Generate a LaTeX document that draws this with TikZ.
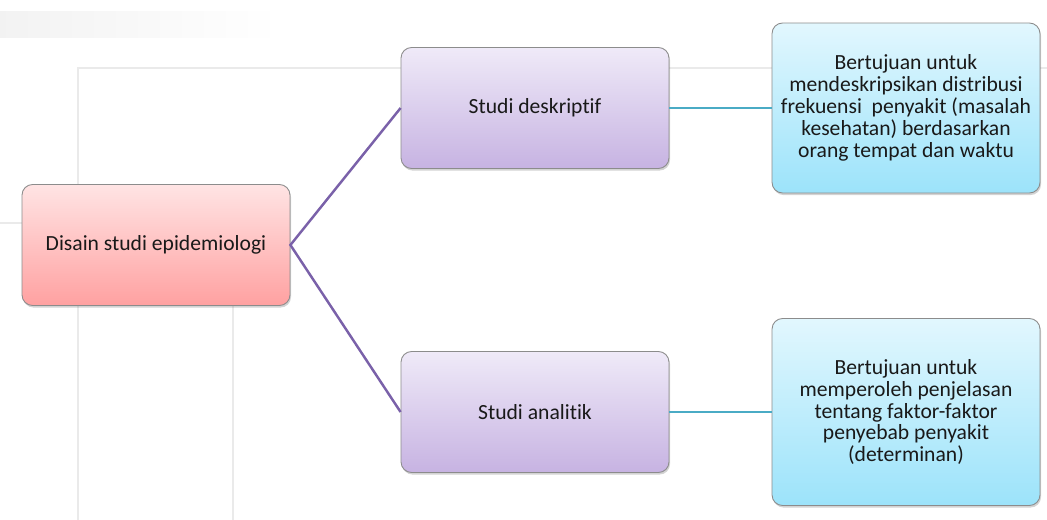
\documentclass[tikz,border=0pt]{standalone}
\usepackage{fontspec}
\setmainfont{Carlito}[Ligatures=NoCommon]
\usepackage{tikz}
\usetikzlibrary{shadows}
\definecolor{rootA}{HTML}{FFE4E4}
\definecolor{rootB}{HTML}{FFA1A1}
\definecolor{studiA}{HTML}{EFEAF8}
\definecolor{studiB}{HTML}{C7B3E2}
\definecolor{descA}{HTML}{E2F7FE}
\definecolor{descB}{HTML}{9CE3FA}
\definecolor{linkP}{HTML}{7A61A9}
\definecolor{linkC}{HTML}{4AABC5}
\definecolor{bgline}{HTML}{EAEAEA}
\tikzset{
  box/.style={draw=black!45, line width=0.5pt, rounded corners=6pt,
    minimum width=5.36cm, align=center, font=\fontsize{12.3}{12.5}\selectfont,
    text=black!90, drop shadow={opacity=0.35, shadow xshift=0.6pt, shadow yshift=-1.2pt}},
  rootbox/.style={box, minimum height=2.42cm, top color=rootA, bottom color=rootB},
  studibox/.style={box, minimum height=2.42cm, top color=studiA, bottom color=studiB},
  descbox/.style={box, top color=descA, bottom color=descB},
}
\begin{document}
\begin{tikzpicture}[>=latex, x=0.02cm, y=-0.02cm]

    \useasboundingbox (0,0) rectangle (1047,520);
    % faint slide background
    \shade[left color=black!5, right color=white] (0,12) rectangle (280,38);
    \draw[bgline, line width=0.6pt] (78,520) -- (78,68) -- (1047,68);
    \draw[bgline, line width=0.6pt] (233,306) -- (233,520);
    \draw[bgline, line width=0.6pt] (0,223) -- (22,223);

    \draw(156,245) node[rootbox] (root) {Disain studi epidemiologi};
    \draw(535,108) node[studibox] (desk) {Studi deskriptif};
    \draw(535,412) node[studibox] (anal) {Studi analitik};
    \draw(906,108) node[descbox, minimum height=3.4cm] (tdesk) {Bertujuan untuk\\ mendeskripsikan distribusi\\ frekuensi\ \ penyakit (masalah\\ kesehatan) berdasarkan\\ orang tempat dan waktu};
    \draw(906,412) node[descbox, minimum height=3.74cm] (tanal) {Bertujuan untuk\\ memperoleh penjelasan\\ tentang faktor-faktor\\ penyebab penyakit\\ (determinan)};
    \draw[linkP, line width=1.4pt] (desk.west) -- (root.east) -- (anal.west);
    \draw[linkC, line width=1.6pt] (desk) -- (tdesk);
    \draw[linkC, line width=1.6pt] (anal) -- (tanal);

\end{tikzpicture}
\end{document}
